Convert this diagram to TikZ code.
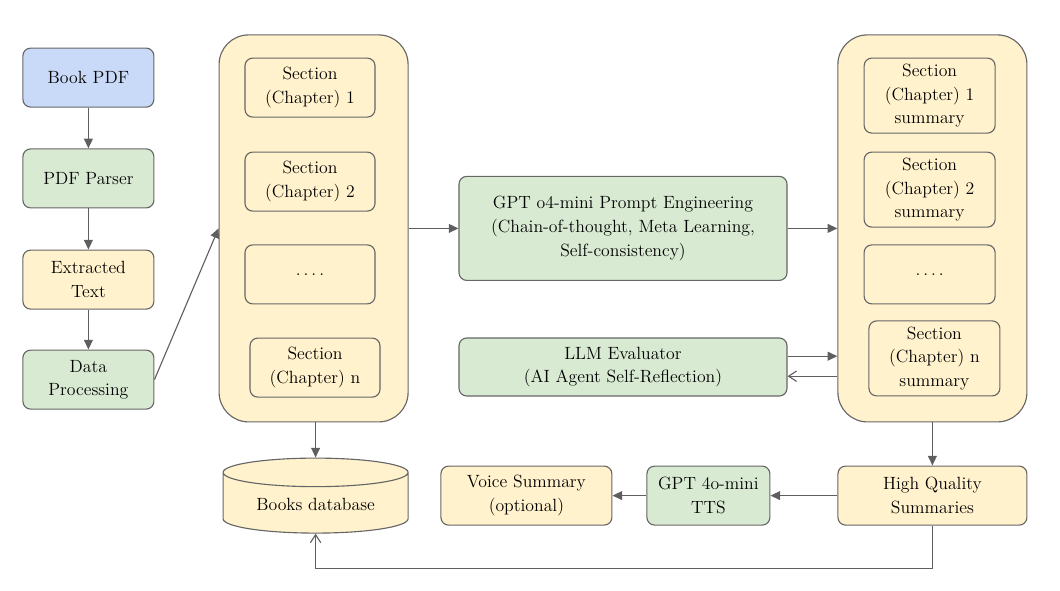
\documentclass[tikz,border=0pt]{standalone}
\usetikzlibrary{arrows.meta,shapes.geometric}

\definecolor{bluefill}{HTML}{C9DAF8}
\definecolor{greenfill}{HTML}{D9EAD3}
\definecolor{yellowfill}{HTML}{FFF2CC}
\definecolor{edgegray}{HTML}{666666}
\definecolor{arrowgray}{HTML}{5F5F5F}

\begin{document}
\begin{tikzpicture}[
font=\fontsize{12.6}{16.8}\selectfont,
box/.style={draw=edgegray, line width=0.8pt, rounded corners=5.5pt, align=center, minimum width=3.25cm, minimum height=1.475cm, inner sep=2pt},
bluebox/.style={box, fill=bluefill},
greenbox/.style={box, fill=greenfill},
yellowbox/.style={box, fill=yellowfill},
container/.style={draw=edgegray, line width=0.8pt, rounded corners=21pt, fill=yellowfill, minimum width=4.725cm, minimum height=9.675cm},
database/.style={cylinder, shape border rotate=90, aspect=0.23, draw=edgegray, line width=0.8pt, fill=yellowfill, minimum width=4.625cm, minimum height=1.875cm, inner sep=2pt, anchor=shape center},
arrow/.style={-{Triangle[length=2.4mm,width=2.2mm]}, draw=arrowgray, line width=0.8pt},
thinarrow/.style={-{Straight Barb[length=2mm,width=2.6mm]}, draw=arrowgray, line width=0.8pt}
]
\useasboundingbox (0,0) rectangle (26.5,-14.75);

% input chain
\node[bluebox, minimum width=3.275cm] (pdf) at (2.21,-1.94) {Book PDF};
\node[greenbox, minimum width=3.275cm] (parser) at (2.21,-4.46) {PDF Parser};
\node[yellowbox, minimum width=3.275cm] (text) at (2.21,-6.99) {Extracted\\Text};
\node[greenbox, minimum width=3.275cm] (proc) at (2.21,-9.49) {Data\\Processing};

\draw[arrow] (pdf.south) -- (parser.north);
\draw[arrow] (parser.south) -- (text.north);
\draw[arrow] (text.south) -- (proc.north);

% sections
\node[container] (sections) at (7.84,-5.71) {};
\node[yellowbox] (s1) at (7.75,-2.19) {Section\\(Chapter) 1};
\node[yellowbox] (s2) at (7.75,-4.54) {Section\\(Chapter) 2};
\node[yellowbox] (sdots) at (7.75,-6.86) {.\,.\,.\,.};
\node[yellowbox] (sn) at (7.875,-9.19) {Section\\(Chapter) n};

\draw[arrow] (proc.east) -- (sections.west);

% models
\node[greenbox, minimum width=8.2cm, minimum height=2.6cm] (gpt) at (15.575,-5.71) {GPT o4-mini Prompt Engineering\\(Chain-of-thought, Meta Learning,\\Self-consistency)};
\node[greenbox, minimum width=8.2cm, minimum height=1.45cm] (llm) at (15.575,-9.175) {LLM Evaluator\\(AI Agent Self-Reflection)};

% summaries
\node[container] (summaries) at (23.31,-5.71) {};
\node[yellowbox, minimum width=3.275cm, minimum height=1.875cm] (m1) at (23.24,-2.39) {Section\\(Chapter) 1\\summary};
\node[yellowbox, minimum width=3.275cm, minimum height=1.875cm] (m2) at (23.24,-4.74) {Section\\(Chapter) 2\\summary};
\node[yellowbox, minimum width=3.275cm] (mdots) at (23.24,-6.86) {.\,.\,.\,.};
\node[yellowbox, minimum width=3.275cm, minimum height=1.875cm] (mn) at (23.36,-8.96) {Section\\(Chapter) n\\summary};

\draw[arrow] (sections.east) -- (gpt.west);
\draw[arrow] (gpt.east) -- (summaries.west);
\draw[arrow] ([yshift=2.7mm]llm.east) -- ([yshift=2.7mm]llm.east -| summaries.west);
\draw[thinarrow] ([yshift=-2.3mm]llm.east -| summaries.west) -- ([yshift=-2.3mm]llm.east);

% outputs
\node[database] (db) at (7.89,-12.39) {Books database};
\node[yellowbox, minimum width=4.725cm] (hq) at (23.31,-12.39) {High Quality\\Summaries};
\node[greenbox, minimum width=3.075cm] (tts) at (17.71,-12.39) {GPT 4o-mini\\TTS};
\node[yellowbox, minimum width=4.275cm] (voice) at (13.16,-12.39) {Voice Summary\\(optional)};

\draw[arrow] (sections.south -| db.north) -- (db.north);
\draw[arrow] (summaries.south -| hq.north) -- (hq.north);
\draw[arrow] (hq.west) -- (tts.east);
\draw[arrow] (tts.west) -- (voice.east);
\draw[thinarrow] (hq.south) -- ++(0,-1.075) -| (db.south);
\end{tikzpicture}
\end{document}
